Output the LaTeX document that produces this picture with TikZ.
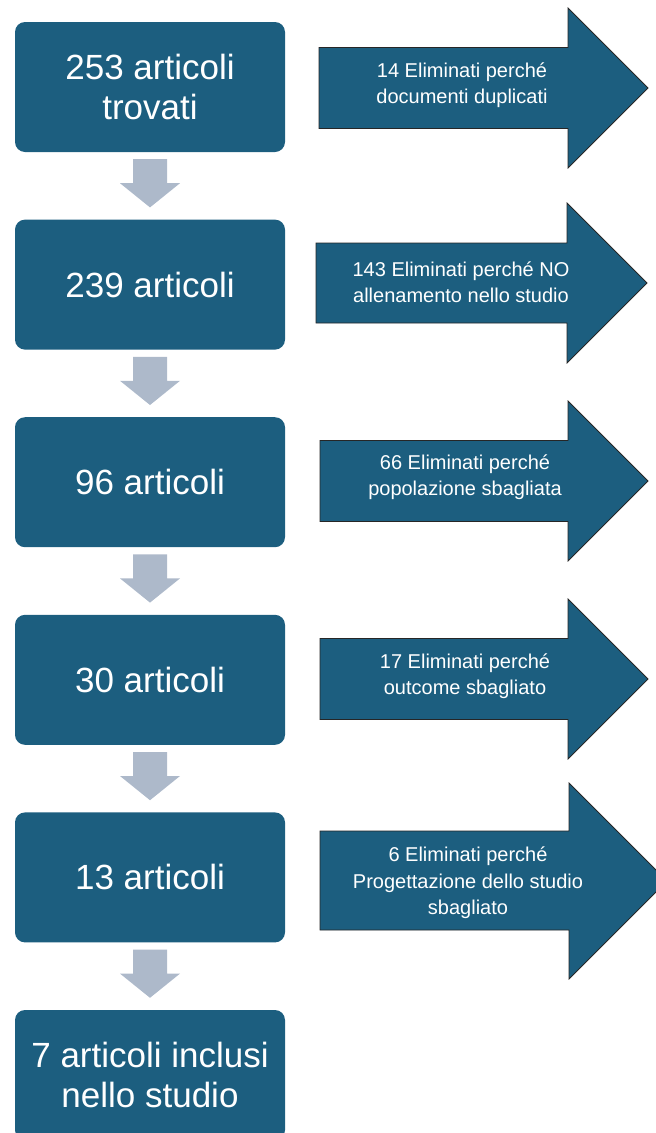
\documentclass[tikz,border=0pt]{standalone}
\usepackage{fontspec}
\setmainfont{Liberation Sans}
\usetikzlibrary{calc}
\definecolor{boxblue}{HTML}{1C5E7F}
\definecolor{downgray}{HTML}{ADB9CA}
\begin{document}
\begin{tikzpicture}[x=1pt,y=-1pt,
  stagebox/.style={rectangle, rounded corners=10pt, fill=boxblue, text=white,
    minimum width=270pt, minimum height=130pt, inner sep=0pt, align=center,
    font=\fontsize{35}{40}\selectfont},
  elimarrow/.style={fill=boxblue, draw=black!85, line width=0.8pt},
  elimtext/.style={text=white, align=center, inner sep=0pt,
    font=\fontsize{20}{26.5}\selectfont},
  downarrow/.style={fill=downgray}]
\useasboundingbox (0,0) rectangle (656,1133);
\clip (0,0) rectangle (656,1133);

% stage boxes
\node[stagebox] (b1) at (150,87)     {253 articoli\\trovati};
\node[stagebox] (b2) at (150,284.6)  {239 articoli};
\node[stagebox] (b3) at (150,482.2)  {96 articoli};
\node[stagebox] (b4) at (150,679.8)  {30 articoli};
\node[stagebox] (b5) at (150,877.4)  {13 articoli};
\node[stagebox] (b6) at (150,1075)   {7 articoli inclusi\\nello studio};

% down block arrows between boxes
\foreach \a/\b in {b1/b2,b2/b3,b3/b4,b4/b5,b5/b6}{
  \fill[downarrow] ($(\a.south)+(-17,7)$) -- ($(\a.south)+(17,7)$)
    -- ($(\a.south)+(17,31)$) -- ($(\a.south)+(30,31)$)
    -- ($(\b.north)+(0,-12)$)
    -- ($(\a.south)+(-30,31)$) -- ($(\a.south)+(-17,31)$) -- cycle;
}

% right block arrows (elimination)
\draw[elimarrow] (319,47.5) -- (568,47.5) -- (568,8) -- (648,88)
  -- (568,168) -- (568,128.5) -- (319,128.5) -- cycle;
\draw[elimarrow] (316,243) -- (567,243) -- (567,203) -- (647,283)
  -- (567,363) -- (567,323) -- (316,323) -- cycle;
\draw[elimarrow] (320,440.5) -- (568,440.5) -- (568,401) -- (648,481)
  -- (568,561) -- (568,521.5) -- (320,521.5) -- cycle;
\draw[elimarrow] (320,638.5) -- (568,638.5) -- (568,599) -- (648,679)
  -- (568,759) -- (568,719.5) -- (320,719.5) -- cycle;
\draw[elimarrow] (320,831) -- (569,831) -- (569,783) -- (667,881)
  -- (569,979) -- (569,930) -- (320,930) -- cycle;

\node[elimtext] (e1) at (462,85)  {14 Eliminati perché\\documenti duplicati};
\node[elimtext] (e2) at (461,282) {143 Eliminati perché NO\\allenamento nello studio};
\node[elimtext] (e3) at (465,477) {66 Eliminati perché\\popolazione sbagliata};
\node[elimtext] (e4) at (465,676) {17 Eliminati perché\\outcome sbagliato};
\node[elimtext] (e5) at (468,883) {6 Eliminati perché\\Progettazione dello studio\\sbagliato};
\end{tikzpicture}
\end{document}
